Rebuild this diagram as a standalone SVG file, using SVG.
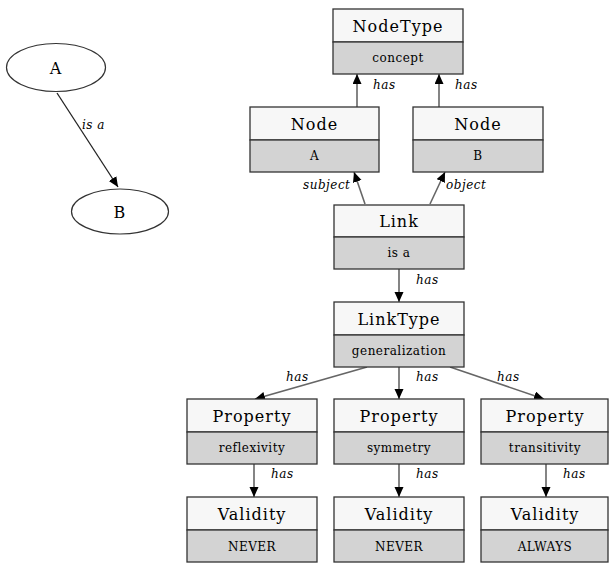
<svg xmlns="http://www.w3.org/2000/svg" width="609" height="563" viewBox="0 0 609 563">
<defs>
<marker id="ah" markerUnits="userSpaceOnUse" markerWidth="12" markerHeight="12" refX="10" refY="4.5" orient="auto">
<path d="M0,0 L10,4.5 L0,9 Z" fill="#000"/>
</marker>
<style>
text{font-family:"DejaVu Serif",serif}
.hd{fill:#f7f7f7;stroke:#333;stroke-width:1.3}
.sb{fill:#d3d3d3;stroke:#333;stroke-width:1.3}
.t{font-size:16px;letter-spacing:1px;text-anchor:middle;fill:#000}
.s{font-size:12px;letter-spacing:0.5px;text-anchor:middle;fill:#000}
.l{font-size:12px;font-style:italic;letter-spacing:0.5px;fill:#000}
.e{stroke:#666;stroke-width:1.6;fill:none;marker-end:url(#ah)}
.ek{stroke:#222;stroke-width:1.3;fill:none;marker-end:url(#ah)}
.el{fill:#fff;stroke:#333;stroke-width:1.2}
</style>
</defs>
<rect width="609" height="563" fill="#fff"/>

<g id="edges">
<path class="ek" d="M57,93 L118,187"/>
<path class="e" d="M357,107 L357,74"/>
<path class="e" d="M439,107 L439,74"/>
<path class="e" d="M365,204 L354,172"/>
<path class="e" d="M430,204 L445,172"/>
<path class="e" d="M399,269 L399,302"/>
<path class="e" d="M367,367 L255,399"/>
<path class="e" d="M399,367 L399,399"/>
<path class="e" d="M450,367 L544,399"/>
<path class="e" d="M254,464 L254,497"/>
<path class="e" d="M399,464 L399,497"/>
<path class="e" d="M546,464 L546,497"/>
</g>
<g id="edge-labels">
<text class="l" x="82" y="129">is a</text>
<text class="l" x="373" y="89">has</text>
<text class="l" x="455" y="89">has</text>
<text class="l" x="303" y="189">subject</text>
<text class="l" x="446" y="189">object</text>
<text class="l" x="416" y="284">has</text>
<text class="l" x="286" y="381">has</text>
<text class="l" x="416" y="381">has</text>
<text class="l" x="497" y="381">has</text>
<text class="l" x="271" y="478">has</text>
<text class="l" x="416" y="478">has</text>
<text class="l" x="563" y="478">has</text>
</g>

<g id="ellipseA">
<ellipse class="el" cx="56" cy="67.5" rx="49.5" ry="24"/>
<text class="t" x="56" y="74">A</text>
</g>
<g id="ellipseB">
<ellipse class="el" cx="120" cy="211.5" rx="48.5" ry="22.5"/>
<text class="t" x="120" y="218">B</text>
</g>

<g id="nodetype">
<rect class="hd" x="333" y="9" width="130" height="33"/>
<rect class="sb" x="333" y="42" width="130" height="32"/>
<text class="t" x="398" y="32">NodeType</text>
<text class="s" x="398" y="62">concept</text>
</g>
<g id="nodeA">
<rect class="hd" x="250" y="107" width="129" height="33"/>
<rect class="sb" x="250" y="140" width="129" height="32"/>
<text class="t" x="314.5" y="130">Node</text>
<text class="s" x="314.5" y="160">A</text>
</g>
<g id="nodeB">
<rect class="hd" x="413" y="107" width="130" height="33"/>
<rect class="sb" x="413" y="140" width="130" height="32"/>
<text class="t" x="478" y="130">Node</text>
<text class="s" x="478" y="160">B</text>
</g>
<g id="link">
<rect class="hd" x="334" y="205" width="130" height="32"/>
<rect class="sb" x="334" y="237" width="130" height="32"/>
<text class="t" x="399" y="227">Link</text>
<text class="s" x="399" y="257">is a</text>
</g>
<g id="linktype">
<rect class="hd" x="334" y="302" width="130" height="33"/>
<rect class="sb" x="334" y="335" width="130" height="32"/>
<text class="t" x="399" y="325">LinkType</text>
<text class="s" x="399" y="355">generalization</text>
</g>
<g id="propReflexivity">
<rect class="hd" x="187" y="399" width="130" height="33"/>
<rect class="sb" x="187" y="432" width="130" height="32"/>
<text class="t" x="252" y="422">Property</text>
<text class="s" x="252" y="452">reflexivity</text>
</g>
<g id="propSymmetry">
<rect class="hd" x="334" y="399" width="130" height="33"/>
<rect class="sb" x="334" y="432" width="130" height="32"/>
<text class="t" x="399" y="422">Property</text>
<text class="s" x="399" y="452">symmetry</text>
</g>
<g id="propTransitivity">
<rect class="hd" x="481" y="399" width="127" height="33"/>
<rect class="sb" x="481" y="432" width="127" height="32"/>
<text class="t" x="545" y="422">Property</text>
<text class="s" x="545" y="452">transitivity</text>
</g>
<g id="validity1">
<rect class="hd" x="187" y="497" width="130" height="33"/>
<rect class="sb" x="187" y="530" width="130" height="32"/>
<text class="t" x="252" y="520">Validity</text>
<text class="s" x="252" y="551">NEVER</text>
</g>
<g id="validity2">
<rect class="hd" x="334" y="497" width="130" height="33"/>
<rect class="sb" x="334" y="530" width="130" height="32"/>
<text class="t" x="399" y="520">Validity</text>
<text class="s" x="399" y="551">NEVER</text>
</g>
<g id="validity3">
<rect class="hd" x="481" y="497" width="127" height="33"/>
<rect class="sb" x="481" y="530" width="127" height="32"/>
<text class="t" x="545" y="520">Validity</text>
<text class="s" x="545" y="551">ALWAYS</text>
</g>
</svg>
